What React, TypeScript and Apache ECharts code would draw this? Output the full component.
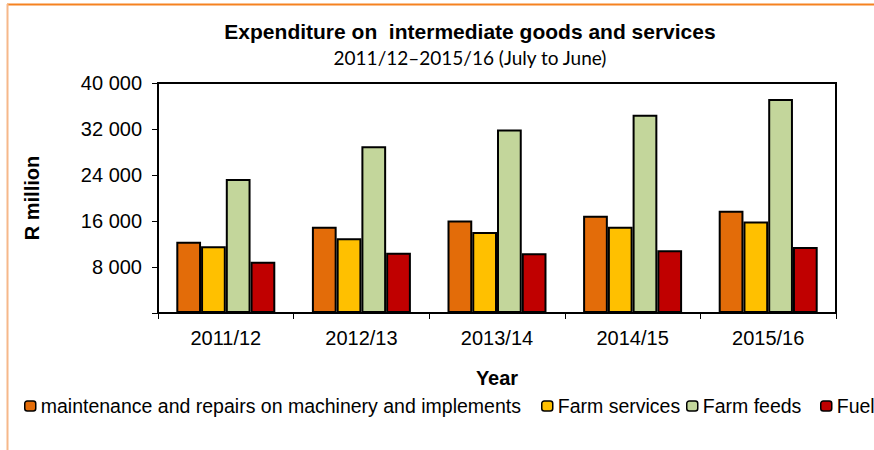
import React, { useEffect, useRef } from "react";
import * as echarts from "echarts";

const years = ["2011/12", "2012/13", "2013/14", "2014/15", "2015/16"];
const seriesNames = [
  "maintenance and repairs on machinery and implements",
  "Farm services",
  "Farm feeds",
  "Fuel",
];
const maintenance = [12400, 15000, 16100, 16900, 17800];
const farmServices = [11600, 13000, 14100, 15000, 15900];
const farmFeeds = [23300, 29000, 31900, 34500, 37200];
const fuel = [8900, 10500, 10400, 10900, 11500];
const seriesColors = ["#E36C09", "#FFC000", "#C3D69B", "#C00000"];
const legendLefts = [24, 541, 686, 820];

const FONT = "'Liberation Sans', Arial, sans-serif";

export default function App() {
  const ref = useRef<HTMLDivElement>(null);
  useEffect(() => {
    document.body.style.margin = "0";
    if (!ref.current) return;
    const chart = echarts.init(ref.current, null, { renderer: "svg" });
    const values = [maintenance, farmServices, farmFeeds, fuel];
    chart.setOption({
      animation: false,
      backgroundColor: "#ffffff",
      textStyle: { fontFamily: FONT, color: "#000" },
      graphic: [
        {
          type: "line",
          shape: { x1: 7, y1: 4.5, x2: 874, y2: 4.5 },
          style: { stroke: "#F58220", lineWidth: 2 },
        },
        {
          type: "line",
          shape: { x1: 7.5, y1: 4, x2: 7.5, y2: 450 },
          style: { stroke: "#F6B88A", lineWidth: 2 },
        },
        {
          type: "text",
          x: 470,
          y: 31,
          style: {
            text: "Expenditure on  intermediate goods and services",
            font: `bold 21px ${FONT}`,
            fill: "#000",
            textAlign: "center",
            textVerticalAlign: "middle",
          },
        },
        {
          type: "text",
          x: 470,
          y: 57,
          style: {
            text: "2011/12\u20132015/16 (July to June)",
            font: `19px Lato, ${FONT}`,
            fill: "#000",
            textAlign: "center",
            textVerticalAlign: "middle",
          },
        },
      ],
      legend: seriesNames.map((n, i) => ({
        data: [n],
        left: legendLefts[i],
        top: 396,
        padding: 0,
        width: 1000,
        itemWidth: 11,
        itemHeight: 10,
        selectedMode: false,
        textStyle: { fontFamily: FONT, fontSize: 19.5, color: "#000" },
        itemStyle: { borderColor: "#000", borderWidth: 1.5 },
      })),
      grid: {
        left: 158,
        top: 83,
        width: 678,
        height: 230,
        show: true,
        borderColor: "#000",
        borderWidth: 2,
        backgroundColor: "transparent",
      },
      xAxis: {
        type: "category",
        data: years,
        boundaryGap: true,
        axisLine: { show: true, lineStyle: { color: "#000", width: 2 } },
        axisTick: { show: true, length: 6, alignWithLabel: false, lineStyle: { color: "#000" } },
        axisLabel: { fontFamily: FONT, fontSize: 20, color: "#000", margin: 15 },
        name: "Year",
        nameLocation: "middle",
        nameGap: 55,
        nameTextStyle: { fontFamily: FONT, fontSize: 20, fontWeight: "bold", color: "#000" },
      },
      yAxis: {
        type: "value",
        min: 0,
        max: 40000,
        interval: 8000,
        splitLine: { show: false },
        axisLine: { show: true, lineStyle: { color: "#000", width: 2 } },
        axisTick: { show: true, length: 6, lineStyle: { color: "#000" } },
        axisLabel: {
          fontFamily: FONT,
          fontSize: 20,
          color: "#000",
          margin: 16,
          formatter: (v: number) =>
            v === 0 ? "" : v.toLocaleString("en-US").replace(/,/g, " "),
        },
        name: "R million",
        nameLocation: "middle",
        nameGap: 116,
        nameRotate: 90,
        nameTextStyle: { fontFamily: FONT, fontSize: 20, fontWeight: "bold", color: "#000" },
      },
      series: seriesNames.map((n, i) => ({
        name: n,
        type: "bar",
        data: values[i],
        barGap: "0%",
        barCategoryGap: "27%",
        itemStyle: { color: seriesColors[i], borderColor: "#000", borderWidth: 2 },
      })),
    });
    return () => chart.dispose();
  }, []);
  return <div ref={ref} style={{ width: 874, height: 450 }} />;
}
